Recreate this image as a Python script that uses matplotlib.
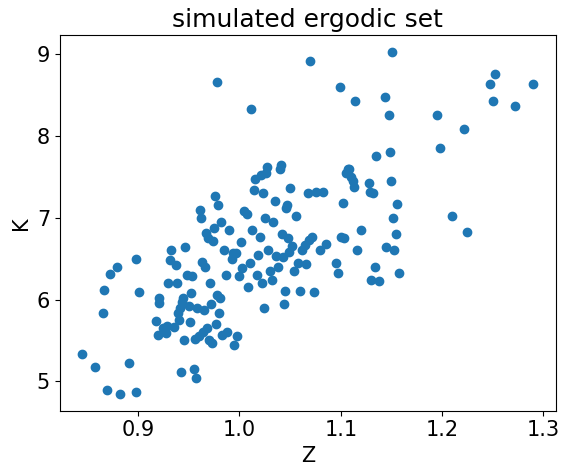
import matplotlib
matplotlib.use("Agg")
import matplotlib.pyplot as plt

z = [0.845, 0.858, 0.865, 0.866, 0.872, 0.879, 0.869, 0.882, 0.891, 0.898, 0.898, 0.901,
     0.918, 0.920, 0.921, 0.921, 0.925, 0.928, 0.929, 0.930, 0.932, 0.933, 0.935, 0.937,
     0.938, 0.939, 0.940, 0.941, 0.942, 0.943, 0.944, 0.945, 0.946, 0.948, 0.950, 0.951,
     0.952, 0.953, 0.955, 0.956, 0.957, 0.958, 0.960, 0.961, 0.962, 0.963, 0.964, 0.965,
     0.966, 0.967, 0.968, 0.969, 0.970, 0.971, 0.972, 0.973, 0.974, 0.975, 0.976, 0.977,
     0.978, 0.979, 0.978, 0.980, 0.981, 0.982, 0.983, 0.985, 0.987, 0.988, 0.990, 0.993,
     0.994, 0.995, 0.997, 0.998, 1.000, 1.002, 1.003, 1.005, 1.007, 1.008, 1.010, 1.011,
     1.012, 1.014, 1.015, 1.017, 1.018, 1.020, 1.021, 1.022, 1.023, 1.024, 1.025, 1.026,
     1.027, 1.028, 1.030, 1.032, 1.033, 1.035, 1.036, 1.038, 1.040, 1.041, 1.042, 1.043,
     1.044, 1.045, 1.046, 1.047, 1.048, 1.049, 1.050, 1.052, 1.054, 1.056, 1.058, 1.060,
     1.062, 1.065, 1.066, 1.068, 1.069, 1.070, 1.072, 1.074, 1.076, 1.080, 1.082, 1.085,
     1.095, 1.097, 1.099, 1.100, 1.102, 1.103, 1.105, 1.107, 1.108, 1.110, 1.112, 1.113,
     1.114, 1.116, 1.120, 1.128, 1.129, 1.130, 1.132, 1.134, 1.135, 1.138, 1.144, 1.145,
     1.148, 1.149, 1.150, 1.151, 1.152, 1.153, 1.154, 1.155, 1.157, 1.195, 1.198, 1.210,
     1.222, 1.225, 1.247, 1.250, 1.252, 1.272, 1.290]
k = [5.33, 5.18, 5.84, 6.12, 6.31, 6.40, 4.89, 4.85, 5.22, 4.87, 6.50, 6.09,
     5.74, 5.57, 5.96, 6.02, 5.65, 5.59, 5.68, 6.20, 6.48, 6.60, 5.66, 6.42,
     6.20, 5.83, 5.75, 5.90, 5.11, 5.97, 6.02, 5.50, 6.64, 6.30, 5.92, 5.72,
     6.08, 6.29, 5.15, 5.52, 5.04, 5.90, 5.56, 7.10, 7.00, 6.46, 5.60, 5.87,
     6.40, 6.81, 5.65, 6.75, 5.50, 6.20, 5.95, 5.47, 6.72, 6.88, 7.26, 5.70,
     6.05, 7.15, 8.66, 5.83, 6.02, 6.95, 5.57, 6.60, 6.30, 5.60, 6.85, 6.49,
     6.57, 5.45, 6.57, 5.55, 6.29, 6.70, 6.38, 7.08, 7.05, 6.15, 6.45, 8.33,
     6.85, 7.34, 7.47, 6.30, 6.55, 6.77, 7.52, 6.20, 7.30, 5.90, 7.00, 7.55,
     7.62, 6.60, 6.35, 6.24, 6.95, 7.20, 6.53, 6.40, 7.60, 7.65, 6.80, 6.52,
     5.95, 6.10, 7.12, 7.15, 6.75, 6.58, 7.36, 6.65, 6.35, 7.02, 6.45, 6.10,
     6.60, 6.67, 6.43, 7.30, 6.73, 8.91, 6.77, 6.09, 7.32, 6.60, 7.32, 6.68,
     6.45, 6.33, 8.60, 6.77, 7.18, 6.75, 7.55, 7.60, 7.60, 7.50, 7.45, 7.38,
     8.43, 6.60, 6.85, 7.42, 7.32, 6.24, 7.30, 6.40, 7.75, 6.23, 8.47, 6.64,
     8.25, 7.80, 7.45, 9.02, 7.00, 6.60, 6.80, 7.17, 6.33, 8.25, 7.85, 7.02,
     8.08, 6.83, 8.63, 8.43, 8.76, 8.37, 8.63]

plt.rcParams['font.size'] = 15
fig, ax = plt.subplots(figsize=(5.69, 4.72), dpi=100)
ax.scatter(z, k)
ax.set_xlabel('Z')
ax.set_ylabel('K')
ax.set_title('simulated ergodic set')
fig.subplots_adjust(left=0.105, right=0.977, top=0.925, bottom=0.13)
fig.savefig('out.png')
